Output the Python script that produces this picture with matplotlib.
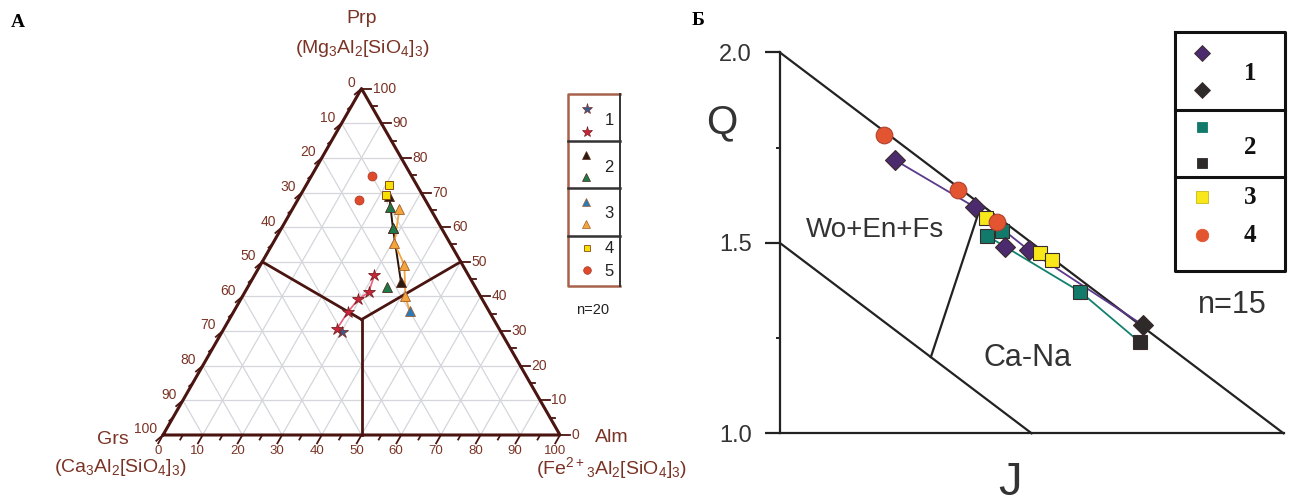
import numpy as np
import matplotlib.pyplot as plt

plt.rcParams['font.family'] = ['Liberation Sans', 'DejaVu Sans']
plt.rcParams['mathtext.fontset'] = 'custom'
plt.rcParams['mathtext.rm'] = 'Liberation Sans'
plt.rcParams['mathtext.it'] = 'Liberation Sans:italic'

# ---- A: garnet ternary, mol.% (Grs = 100 - Prp - Alm)
star_red_prp = [46.1, 41.2, 39.2, 35.4, 30.5]
star_red_alm = [30.2, 31.2, 29.6, 28.8, 28.5]
star_blue_prp = [29.6]
star_blue_alm = [30.2]
tri_dark_prp = [69.0, 59.8, 44.1]
tri_dark_alm = [22.5, 28.0, 37.9]
tri_green_prp = [65.9, 59.8, 42.6]
tri_green_alm = [24.2, 28.0, 35.2]
tri_orange_prp = [65.3, 55.4, 49.0, 40.1]
tri_orange_alm = [26.9, 30.6, 36.3, 41.0]
tri_blue_prp = [35.7]
tri_blue_alm = [44.3]
sq_yellow_prp = [72.2, 69.3]
sq_yellow_alm = [20.9, 21.6]
circ_red_prp = [74.9, 67.7]
circ_red_alm = [15.2, 15.5]

# ---- Б: pyroxene Q-J
px1_J = [0.229, 0.388, 0.447, 0.494]
px1_Q = [1.717, 1.593, 1.489, 1.481]
px1b_J = [0.721]
px1b_Q = [1.284]
px2_J = [0.412, 0.441, 0.597]
px2_Q = [1.518, 1.531, 1.371]
px2b_J = [0.715]
px2b_Q = [1.239]
px3_J = [0.410, 0.517, 0.540]
px3_Q = [1.564, 1.473, 1.455]
px4_J = [0.207, 0.353, 0.431]
px4_Q = [1.783, 1.639, 1.555]

BR = '#4a1410'   # triangle lines
TB = '#7a3426'   # brown text
S3 = np.sqrt(3) / 2


def tern(prp, alm):
    prp = np.asarray(prp, float)
    alm = np.asarray(alm, float)
    return alm + prp / 2, prp * S3


fig = plt.figure(figsize=(12.93, 5.03), dpi=100)

# ternary axes spans the whole figure, units = %
ax = fig.add_axes([0, 0, 1, 1])
ax.set_xlim(-163 / 3.97, (1293 - 163) / 3.97)
ax.set_ylim((435 - 503) / 4.0, 435 / 4.0)
ax.axis('off')

# grid
for v in range(10, 100, 10):
    for a, b in [((v, 0), (v, 100 - v)), ((0, v), (100 - v, v)), ((0, 100 - v), (100 - v, 0))]:
        x, y = tern([a[0], b[0]], [a[1], b[1]])
        ax.plot(x, y, color='#d4d6dc', lw=0.9, zorder=1)

# frame
x, y = tern([0, 0, 100, 0], [0, 100, 0, 0])
ax.plot(x, y, color=BR, lw=2.2, zorder=3, solid_capstyle='round')

# field boundaries
c = tern(100 / 3, 100 / 3)
for p, a in [(50, 0), (50, 50), (0, 50)]:
    m = tern(p, a)
    ax.plot([c[0], m[0]], [c[1], m[1]], color=BR, lw=2.0, zorder=3)

# ticks and labels
for v in range(0, 101, 5):
    L = 2.4 if v % 10 == 0 else 1.3
    # bottom (Alm)
    bx, by = tern(0, v)
    ax.plot([bx, bx - 0.5 * L], [by, by - 0.87 * L], color=BR, lw=1.3, zorder=3)
    # right (Prp)
    rx, ry = tern(v, 100 - v)
    ax.plot([rx, rx + L], [ry, ry], color=BR, lw=1.3, zorder=3)
    # left (Grs)
    lx, ly = tern(100 - v, 0)
    ax.plot([lx, lx - 0.7 * L], [ly, ly - 0.6 * L], color=BR, lw=1.3, zorder=3)
    if v % 10 == 0:
        ax.text(bx - 1.3, by - 4.0, str(v), ha='center', va='center', fontsize=9.5, color=TB)
        ax.text(rx + 2.8, ry, str(v), ha='left', va='center', fontsize=10, color=TB)
        ax.text(lx - 1.6, ly + 1.4, str(v), ha='right', va='center', fontsize=10, color=TB)

# data
x, y = tern(star_red_prp, star_red_alm)
ax.plot(x, y, color='#e8607a', lw=1.2, zorder=4)
ax.plot(x, y, '*', ms=9, mfc='#c8243c', mec='#7a2020', mew=0.6, zorder=6)
x, y = tern(star_blue_prp, star_blue_alm)
ax.plot(x, y, '*', ms=9, mfc='#3a5a8a', mec='#7a3030', mew=0.6, zorder=5)

x, y = tern(tri_dark_prp, tri_dark_alm)
ax.plot(x, y, color='#2a1208', lw=1.4, zorder=4)
ax.plot(x, y, '^', ms=7, mfc='#2a1a10', mec='#5a2a1a', mew=0.6, zorder=5)
x, y = tern(tri_green_prp, tri_green_alm)
ax.plot(x, y, '^', ms=7, mfc='#1f7a4a', mec='#4a2a1a', mew=0.6, zorder=6)

x, y = tern(tri_orange_prp + tri_blue_prp, tri_orange_alm + tri_blue_alm)
ax.plot(x, y, color='#f4a43c', lw=1.3, zorder=4)
x, y = tern(tri_orange_prp, tri_orange_alm)
ax.plot(x, y, '^', ms=7, mfc='#f4a43c', mec='#a0602a', mew=0.6, zorder=6)
x, y = tern(tri_blue_prp, tri_blue_alm)
ax.plot(x, y, '^', ms=7.5, mfc='#2a7ab8', mec='#a06030', mew=0.6, zorder=6)

x, y = tern(sq_yellow_prp, sq_yellow_alm)
ax.plot(x, y, 's', ms=6, mfc='#f5e000', mec='#8a4a1a', mew=0.7, zorder=7)
x, y = tern(circ_red_prp, circ_red_alm)
ax.plot(x, y, 'o', ms=6.5, mfc='#e04a2a', mec='#a03a2a', mew=0.5, zorder=6)

# ---- Б axes
bx_ = fig.add_axes([779.7 / 1293, 1 - 433.3 / 503, 503.8 / 1293, 381 / 503])
bx_.set_xlim(0, 1)
bx_.set_ylim(1, 2)
bx_.patch.set_alpha(0)
for s in ['top', 'right']:
    bx_.spines[s].set_visible(False)
for s in ['left', 'bottom']:
    bx_.spines[s].set_linewidth(1.6)
    bx_.spines[s].set_color('#222222')
bx_.set_xticks([])
bx_.set_yticks([1.0, 1.5, 2.0])
bx_.set_yticklabels(['1.0', '1.5', '2.0'])
bx_.set_yticks([1.25, 1.75], minor=True)
bx_.tick_params(axis='y', which='major', length=11, width=1.6, pad=9,
                labelsize=17, labelcolor='#333333', color='#222222')
bx_.tick_params(axis='y', which='minor', length=3, width=1.4, color='#222222')

kw = dict(color='#222222', lw=1.6, clip_on=False, zorder=2)
bx_.plot([0, 1], [2, 1], **kw)
bx_.plot([0, 0.5], [1.5, 1], **kw)
bx_.plot([0.3, 0.4], [1.2, 1.6], **kw)

bx_.plot([px1_J[i] for i in (0, 1, 3)] + px1b_J, [px1_Q[i] for i in (0, 1, 3)] + px1b_Q,
         color='#5a3a8a', lw=1.3, zorder=3)
bx_.plot(px2_J[::2] + px2b_J, px2_Q[::2] + px2b_Q, color='#12806e', lw=1.3, zorder=3)

mk = dict(ls='none', mec='#3a2a2a', mew=0.8, clip_on=False)
bx_.plot(px1_J, px1_Q, 'D', ms=10, mfc='#4b2a6e', zorder=5, **mk)
bx_.plot(px1b_J, px1b_Q, 'D', ms=10, mfc='#2f2a2a', zorder=5, **mk)
bx_.plot(px2_J, px2_Q, 's', ms=9.5, mfc='#127a6a', zorder=4, **mk)
bx_.plot(px2b_J, px2b_Q, 's', ms=9.5, mfc='#2f2a2a', zorder=4, **mk)
bx_.plot(px3_J, px3_Q, 's', ms=9.5, mfc='#f8e81a', zorder=6, **mk)
bx_.plot(px4_J, px4_Q, 'o', ms=12, mfc='#e35530', mec='#b04030', mew=0.8,
         ls='none', zorder=7, clip_on=False)

# ---- overlay in pixel coords: titles, legends
ov = fig.add_axes([0, 0, 1, 1])
ov.set_xlim(0, 1293)
ov.set_ylim(503, 0)
ov.axis('off')
ov.patch.set_alpha(0)

ov.text(11, 22, 'A', fontsize=14, fontweight='bold', family='Liberation Serif', va='center')
ov.text(692, 20, 'Б', fontsize=14, fontweight='bold', family='Liberation Serif', va='center')

ov.text(362, 18, 'Prp', fontsize=14, color=TB, ha='center', va='center')
ov.text(362, 48, r'(Mg$_3$Al$_2$[SiO$_4$]$_3$)', fontsize=14, color=TB, ha='center', va='center')
ov.text(113, 439, 'Grs', fontsize=14, color=TB, ha='center', va='center')
ov.text(120, 468, r'(Ca$_3$Al$_2$[SiO$_4$]$_3$)', fontsize=14, color=TB, ha='center', va='center')
ov.text(612, 438, 'Alm', fontsize=14, color=TB, ha='center', va='center')
ov.text(612, 468, r'(Fe$^{2+}$$_3$Al$_2$[SiO$_4$]$_3$)', fontsize=14, color=TB, ha='center', va='center')

# legend A
ov.plot([620, 568, 568, 620], [94, 94, 286, 286], color='#a8624c', lw=1.8)
ov.plot([620, 620], [94, 286], color='#333333', lw=1.4)
for yy in (141, 188, 236):
    ov.plot([568, 620], [yy, yy], color='#333333', lw=1.8)
ov.plot(587, 109, '*', ms=8, mfc='#3a5a8a', mec='#7a3030', mew=0.5)
ov.plot(587, 132, '*', ms=8, mfc='#c8243c', mec='#7a2020', mew=0.5)
ov.plot(586, 155, '^', ms=6, mfc='#2a1a10', mec='#5a2a1a', mew=0.5)
ov.plot(586, 177, '^', ms=6, mfc='#1f7a4a', mec='#4a2a1a', mew=0.5)
ov.plot(586, 202, '^', ms=6, mfc='#2a7ab8', mec='#a06030', mew=0.5)
ov.plot(586, 224, '^', ms=6, mfc='#f4a43c', mec='#a0602a', mew=0.5)
ov.plot(587, 248, 's', ms=5, mfc='#f5e000', mec='#8a4a1a', mew=0.6)
ov.plot(587, 270, 'o', ms=5.5, mfc='#e04a2a', mec='#a03a2a', mew=0.5)
for lab, yy in [('1', 120), ('2', 167), ('3', 213), ('4', 248), ('5', 271)]:
    ov.text(609, yy, lab, fontsize=12, ha='center', va='center', color='#222222')
ov.text(593, 310, 'n=20', fontsize=10.5, ha='center', va='center', color='#222222')

# legend Б
ov.plot([1175, 1285, 1285, 1175, 1175], [32, 32, 271, 271, 32], color='#111111', lw=2.2)
for yy in (110, 177):
    ov.plot([1175, 1285], [yy, yy], color='#111111', lw=2.2)
ov.plot(1202, 53, 'D', ms=8, mfc='#4b2a6e', mec='#3a2a2a', mew=0.6)
ov.plot(1202, 90, 'D', ms=8, mfc='#2f2a2a', mec='#3a2a2a', mew=0.6)
ov.plot(1202, 127, 's', ms=7, mfc='#127a6a', mec='#127a6a', mew=0.6)
ov.plot(1202, 163, 's', ms=7, mfc='#2f2a2a', mec='#2f2a2a', mew=0.6)
ov.plot(1202, 197, 's', ms=8, mfc='#f8e81a', mec='#c8b820', mew=0.6)
ov.plot(1202, 235, 'o', ms=9, mfc='#e35530', mec='#e35530', mew=0.6)
for lab, yy in [('1', 73), ('2', 148), ('3', 197), ('4', 235)]:
    ov.text(1250, yy, lab, fontsize=18, fontweight='bold', family='Liberation Serif',
            ha='center', va='center', color='#111111')
ov.text(1232, 305, 'n=15', fontsize=22, ha='center', va='center', color='#333333')

ov.text(722, 122, 'Q', fontsize=29, ha='center', va='center', color='#333333')
ov.text(1010, 483, 'J', fontsize=34, ha='center', va='center', color='#333333')
ov.text(875, 230, 'Wo+En+Fs', fontsize=20, ha='center', va='center', color='#333333')
ov.text(1028, 358, 'Ca-Na', fontsize=22, ha='center', va='center', color='#333333')

fig.savefig('out.png', dpi=100)
